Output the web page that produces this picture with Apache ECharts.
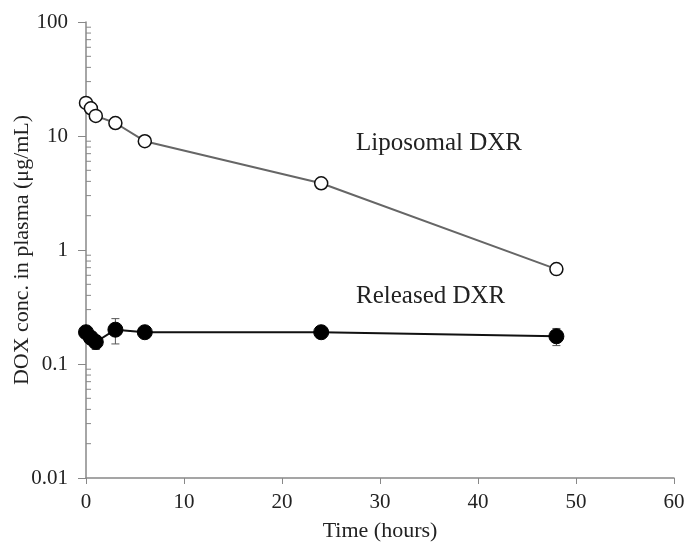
<!DOCTYPE html>
<html>
<head>
<meta charset="utf-8">
<script src="https://cdn.jsdelivr.net/npm/echarts@6/dist/echarts.min.js"></script>
<style>
  html, body { margin: 0; padding: 0; background: #fff; }
  #chart { width: 688px; height: 546px; }
</style>
</head>
<body>
<div id="chart"></div>
<script>
// time points (hours)
var hours = [0, 0.5, 1, 3, 6, 24, 48]
// liposomal DXR conc. (ug/mL) and error
var liposomal = [19.5, 17.5, 15.0, 13.0, 9.0, 3.85, 0.68]
var liposomalErr = [0.6, 0.6, 0.6, 1.2, 0.4, 0.2, 0.04]
// released DXR conc. (ug/mL) and error
var released = [0.19, 0.17, 0.156, 0.20, 0.19, 0.19, 0.175]
var releasedErr = [0.01, 0.015, 0.022, 0.05, 0.015, 0.018, 0.03]
var yTicks = [0.01, 0.1, 1, 10, 100]
var serif = '"Liberation Serif", "DejaVu Serif", serif'

var myChart = echarts.init(document.getElementById('chart'))

function pairs(ys) {
    return hours.map(function (h, i) { return [h, ys[i]] })
}
function errPairs(ys, errs) {
    return hours.map(function (h, i) { return [h, ys[i] - errs[i], ys[i] + errs[i]] })
}

// minor ticks 2..9 in every decade, drawn inside the axis
var minorTicks = []
for (var d = 0; d < yTicks.length - 1; d++) {
    for (var m = 2; m <= 9; m++) minorTicks.push([0, yTicks[d] * m])
}

function errorBar(color) {
    return function (params, api) {
        var top = api.coord([api.value(0), api.value(2)])
        var bot = api.coord([api.value(0), api.value(1)])
        var w = 4
        var style = { stroke: color, lineWidth: 1 }
        return {
            type: 'group',
            children: [
                { type: 'line', shape: { x1: top[0], y1: top[1], x2: bot[0], y2: bot[1] }, style: style },
                { type: 'line', shape: { x1: top[0] - w, y1: top[1], x2: top[0] + w, y2: top[1] }, style: style },
                { type: 'line', shape: { x1: bot[0] - w, y1: bot[1], x2: bot[0] + w, y2: bot[1] }, style: style }
            ]
        }
    }
}

var option = {
    animation: false,
    backgroundColor: '#fff',
    grid: { left: 86, right: 14, top: 22, bottom: 68, containLabel: false, outerBoundsMode: 'none' },
    xAxis: {
        type: 'value', min: 0, max: 60, interval: 10,
        name: 'Time (hours)', nameLocation: 'middle', nameGap: 42, nameMoveOverlap: false,
        nameTextStyle: { fontFamily: serif, fontSize: 22, color: '#222' },
        axisLine: { lineStyle: { color: '#888', width: 1.5 } },
        axisTick: { show: true, length: 6, lineStyle: { color: '#888' } },
        axisLabel: { fontFamily: serif, fontSize: 21, color: '#222', margin: 14 },
        splitLine: { show: false }
    },
    yAxis: {
        type: 'log', logBase: 10, min: 0.01, max: 100,
        name: 'DOX conc. in plasma (μg/mL)', nameLocation: 'middle', nameGap: 53, nameMoveOverlap: false,
        nameTextStyle: { fontFamily: serif, fontSize: 22, color: '#222' },
        axisLine: { show: true, lineStyle: { color: '#888', width: 1.5 } },
        axisTick: { show: true, length: 8, lineStyle: { color: '#888' } },
        axisLabel: {
            fontFamily: serif, fontSize: 21, color: '#222', margin: 18,
            formatter: function (v) { return String(+v.toPrecision(2)) }
        },
        splitLine: { show: false }
    },
    series: [
        {
            type: 'custom', silent: true, z: 1,
            data: minorTicks,
            renderItem: function (params, api) {
                var p = api.coord([api.value(0), api.value(1)])
                return {
                    type: 'line',
                    shape: { x1: p[0], y1: p[1], x2: p[0] + 5, y2: p[1] },
                    style: { stroke: '#888', lineWidth: 1 }
                }
            },
            clip: false
        },
        {
            type: 'custom', z: 2, clip: false,
            data: errPairs(liposomal, liposomalErr),
            renderItem: errorBar('#777')
        },
        {
            type: 'custom', z: 2, clip: false,
            data: errPairs(released, releasedErr),
            renderItem: errorBar('#555')
        },
        {
            name: 'Liposomal DXR', type: 'line', z: 3, clip: false,
            data: pairs(liposomal),
            symbol: 'circle', symbolSize: 13,
            lineStyle: { color: '#666', width: 2 },
            itemStyle: { color: '#fff', borderColor: '#111', borderWidth: 1.5 }
        },
        {
            name: 'Released DXR', type: 'line', z: 3, clip: false,
            data: pairs(released),
            symbol: 'circle', symbolSize: 15,
            lineStyle: { color: '#111', width: 2 },
            itemStyle: { color: '#000', borderColor: '#000', borderWidth: 1 }
        }
    ],
    graphic: [
        { type: 'text', left: 356, top: 131, style: { text: 'Liposomal DXR', font: '25px ' + serif, fill: '#222' } },
        { type: 'text', left: 356, top: 284, style: { text: 'Released DXR', font: '25px ' + serif, fill: '#222' } }
    ]
}

myChart.setOption(option)
</script>
</body>
</html>
